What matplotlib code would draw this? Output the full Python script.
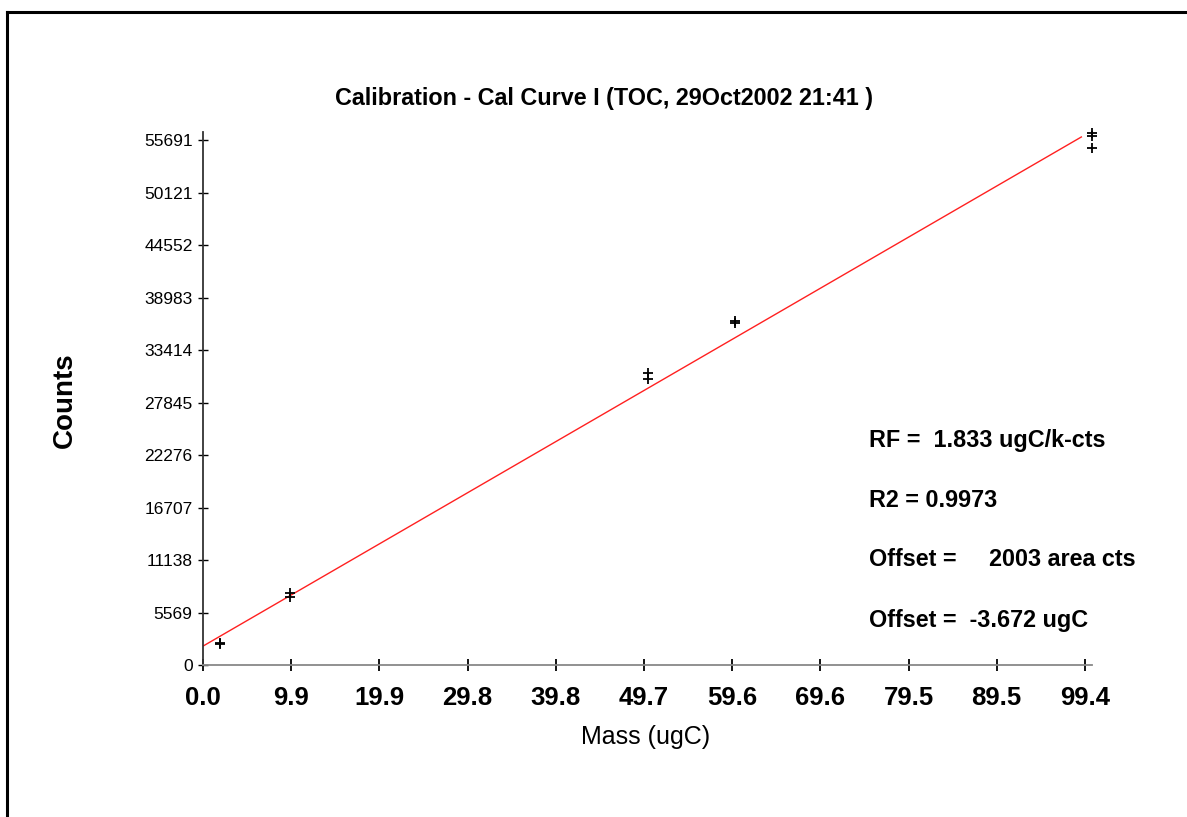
import matplotlib
matplotlib.use("Agg")
import matplotlib.pyplot as plt
from matplotlib.lines import Line2D

plt.rcParams['font.family'] = ['Liberation Sans', 'DejaVu Sans']

# Data
mass = [1.9, 1.9, 9.8, 9.8, 50.2, 50.2, 60.0, 60.0, 100.2, 100.2, 100.2]
counts = [2350, 2250, 7650, 7250, 30950, 30350, 36500, 36280, 56450, 56120, 54850]

rf = 1.833            # ugC / k-cts
offset_cts = 2003     # area cts
offset_ugc = -3.672
r2 = 0.9973
fit_x = [0.0, 99.0]
fit_y = [offset_cts + x * 1000.0 / rf for x in fit_x]

xticks = [0.0, 9.9, 19.9, 29.8, 39.8, 49.7, 59.6, 69.6, 79.5, 89.5, 99.4]
xtick_vals = [i * 9.94 for i in range(11)]
ytick_labels = ["0", "5569", "11138", "16707", "22276", "27845", "33414",
                "38983", "44552", "50121", "55691"]
ytick_vals = [i * 5569.1 for i in range(11)]

W, H = 1187, 817
fig = plt.figure(figsize=(W / 100, H / 100), dpi=100)
fig.patch.set_facecolor('white')

# outer frame (left and top edges visible)
fx = 7 / W
fy = 1 - 12 / H
fig.add_artist(Line2D([fx, fx], [0, fy], transform=fig.transFigure, color='black', lw=2.2))
fig.add_artist(Line2D([fx, 1], [fy, fy], transform=fig.transFigure, color='black', lw=2.2))

ax = fig.add_axes([203 / W, 1 - 665 / H, (1092 - 203) / W, (665 - 132) / H])
ax.set_xlim(0, 100.2)
ax.set_ylim(0, 56540)

ax.plot(fit_x, fit_y, color='#ff2020', lw=1.0, zorder=2)
ax.plot(mass, counts, linestyle='none', marker='+', color='black',
        markersize=7, markeredgewidth=1.3, zorder=3, clip_on=False)

for s in ['top', 'right']:
    ax.spines[s].set_visible(False)
ax.spines['left'].set_color('#333333')
ax.spines['left'].set_linewidth(1.3)
ax.spines['bottom'].set_color('#888888')
ax.spines['bottom'].set_linewidth(1.3)

ax.set_xticks(xtick_vals)
ax.set_xticklabels([f"{v:.1f}" for v in xticks], fontsize=18.5, fontweight='bold')
ax.set_yticks(ytick_vals)
ax.set_yticklabels(ytick_labels, fontsize=12.5)
ax.tick_params(axis='x', direction='inout', length=8, width=1.3, color='black', pad=11)
ax.tick_params(axis='y', direction='inout', length=7, width=1.0, color='black', pad=4)

fig.text(604 / W, 1 - 99 / H, "Calibration - Cal Curve I (TOC, 29Oct2002 21:41 )",
         ha='center', va='center', fontsize=16.8, fontweight='bold')
fig.text(646 / W, 1 - 737 / H, "Mass (ugC)", ha='center', va='center', fontsize=18)
fig.text(65 / W, 1 - 400 / H, "Counts", ha='center', va='center', fontsize=20,
         fontweight='bold', rotation=90)

ann = [f"RF =  {rf:.3f} ugC/k-cts",
       f"R2 = {r2:.4f}",
       f"Offset =     {offset_cts} area cts",
       f"Offset =  {offset_ugc:.3f} ugC"]
baselines = [446.5, 506.5, 566.5, 626.5]
for t, b in zip(ann, baselines):
    fig.text(869 / W, 1 - b / H, t, ha='left', va='baseline', fontsize=16.8,
             fontweight='bold')

fig.savefig("out.png", dpi=100, facecolor='white')
